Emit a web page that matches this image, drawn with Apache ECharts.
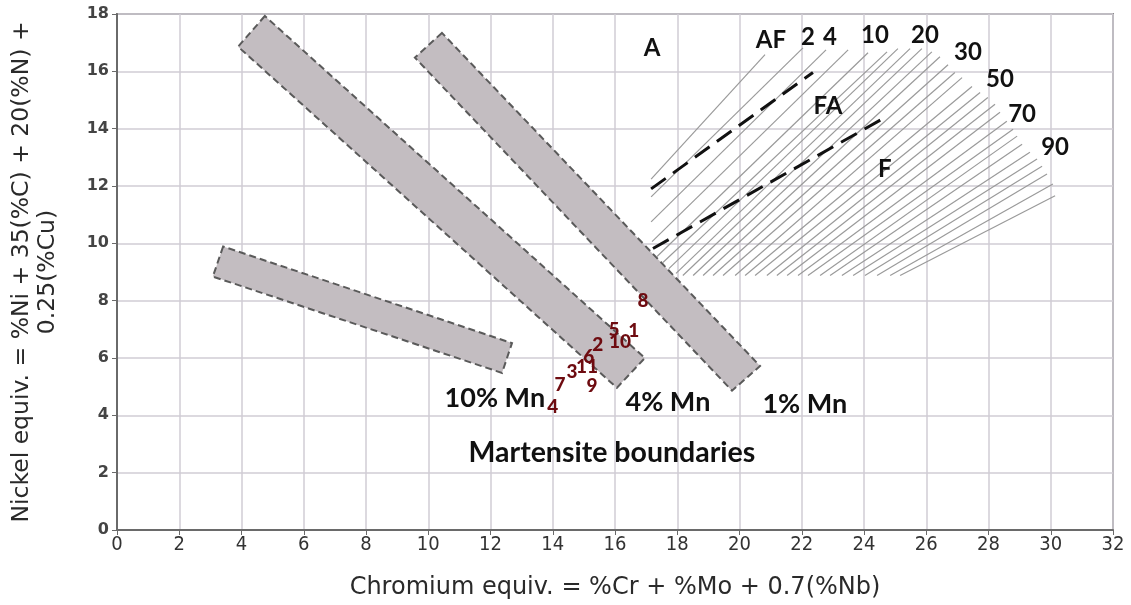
<!DOCTYPE html>
<html><head><meta charset="utf-8">
<script src="https://cdn.jsdelivr.net/npm/echarts@6/dist/echarts.min.js"></script>
<style>html,body{margin:0;padding:0;background:#fff}#c{width:1131px;height:605px}</style>
</head><body><div id="c"></div>
<script>
// ---- data ----
const band10Mn = [[3.41,9.89],[3.08,8.84],[12.37,5.48],[12.69,6.52]];
const band4Mn  = [[4.75,17.93],[3.89,16.86],[16.06,4.96],[16.96,6.00]];
const band1Mn  = [[10.44,17.34],[9.57,16.48],[19.76,4.86],[20.66,5.72]];

const sampleNames = ['1','2','3','4','5','6','7','8','9','10','11'];
const sampleX = [16.6,15.45,14.62,14.0,15.97,15.16,14.23,16.9,15.26,16.16,15.1];
const sampleY = [6.94,6.45,5.51,4.30,6.97,6.04,5.06,7.98,5.03,6.56,5.69];

const hatchStarts = [
[17.16,12.24],[17.16,11.62],[17.16,10.75],[17.19,10.06],[17.35,9.54],[17.54,9.33],[17.73,9.12],[17.96,8.95],
[18.18,8.88],[18.51,8.88],[18.83,8.88],[19.15,8.88],[19.47,8.88],[19.86,8.88],[20.18,8.88],[20.50,8.88],
[20.88,8.88],[21.20,8.88],[21.53,8.88],[21.88,8.88],[22.20,8.88],[22.59,8.88],[22.91,8.88],[23.29,8.88],
[23.65,8.88],[24.03,8.88],[24.42,8.88],[24.84,8.88],[25.16,8.88]];
const hatchEnds = [
[20.82,16.58],[22.04,16.82],[22.78,16.75],[23.49,16.75],[24.13,16.65],[24.74,16.68],[25.09,16.79],[25.48,16.79],
[25.86,16.79],[26.18,16.68],[26.44,16.51],[26.70,16.23],[26.92,15.96],[27.15,15.78],[27.47,15.47],[27.73,15.26],
[27.98,15.09],[28.21,14.85],[28.37,14.57],[28.59,14.26],[28.79,13.98],[28.92,13.74],[29.08,13.46],[29.33,13.18],
[29.56,12.94],[29.72,12.69],[29.88,12.42],[30.07,12.07],[30.14,11.66]];

const dashUpper = [[17.16,11.90],[22.36,15.96]];
const dashLower = [[17.22,9.82],[24.74,14.43]];

const regionLabels = ['A','AF','2','4','10','20','30','50','70','90','FA','F'];
const regionX = [17.19,21.01,22.20,22.91,24.35,25.96,27.34,28.37,29.08,30.14,22.84,24.67];
const regionY = [16.82,17.10,17.20,17.20,17.27,17.27,16.65,15.71,14.50,13.35,14.78,12.59];

const mnLabels = ['10% Mn','4% Mn','1% Mn','Martensite boundaries'];
const mnX = [12.14,17.70,22.10,15.90];
const mnY = [4.61,4.44,4.37,2.71];

const xTicks = {min:0,max:32,step:2};
const yTicks = {min:0,max:18,step:2};

// ---- chart ----
const chart = echarts.init(document.getElementById('c'));
function bandSeries(pts){
  return {
    type:'custom', z:2, silent:true,
    data:[[0]],
    renderItem:function(params, api){
      const points = pts.map(p=>api.coord(p));
      return {type:'polygon', shape:{points:points},
        style:{fill:'#c3bdc1', stroke:'#5a5a5a', lineWidth:2, lineDash:[7,4]}};
    }
  };
}
const hatchData = hatchStarts.map((s,i)=>[s[0],s[1],hatchEnds[i][0],hatchEnds[i][1]]);
const labelFont = 'Lato, "Open Sans", sans-serif';
const textItem = {color:'rgba(0,0,0,0)', opacity:1};

chart.setOption({
  animation:false,
  grid:{left:117,right:18,top:14,bottom:72,show:true,borderColor:'#8a8a8a',borderWidth:2,containLabel:false},
  xAxis:{type:'value',min:xTicks.min,max:xTicks.max,interval:xTicks.step,
    name:'Chromium equiv. = %Cr + %Mo + 0.7(%Nb)',nameLocation:'middle',nameGap:46,
    nameTextStyle:{fontFamily:'DejaVu Sans',fontSize:24,color:'#2a2a2a'},
    axisLine:{lineStyle:{color:'#6a6a6a',width:2}},
    axisTick:{show:true,length:5,lineStyle:{color:'#6a6a6a'}},
    axisLabel:{fontFamily:'"Liberation Sans Narrow","DejaVu Sans Condensed",sans-serif',fontSize:20,color:'#333',margin:5},
    splitLine:{lineStyle:{color:'#d0ccd4',width:1.5}}},
  yAxis:{type:'value',min:yTicks.min,max:yTicks.max,interval:yTicks.step,
    name:'Nickel equiv. = %Ni + 35(%C) + 20(%N) +\n0.25(%Cu)',nameLocation:'middle',nameGap:56,
    nameTextStyle:{fontFamily:'DejaVu Sans',fontSize:23.5,color:'#2a2a2a',lineHeight:26,align:'center'},
    axisLine:{lineStyle:{color:'#6a6a6a',width:2}},
    axisTick:{show:true,length:5,lineStyle:{color:'#6a6a6a'}},
    axisLabel:{fontFamily:'DejaVu Sans',fontWeight:'bold',fontSize:16,color:'#444',margin:8},
    splitLine:{lineStyle:{color:'#d0ccd4',width:1.5}}},
  series:[
    bandSeries(band10Mn), bandSeries(band4Mn), bandSeries(band1Mn),
    {type:'custom', z:3, silent:true, data:hatchData,
      renderItem:function(params, api){
        const a = api.coord([api.value(0),api.value(1)]);
        const b = api.coord([api.value(2),api.value(3)]);
        return {type:'line', shape:{x1:a[0],y1:a[1],x2:b[0],y2:b[1]},
          style:{stroke:'#9a9a9a',lineWidth:1.2}};
      }},
    {type:'line', z:4, data:dashUpper, symbol:'none', silent:true,
      lineStyle:{color:'#111',width:3,type:[18,9]}},
    {type:'line', z:4, data:dashLower, symbol:'none', silent:true,
      lineStyle:{color:'#111',width:3,type:[18,9]}},
    {type:'scatter', z:6, symbolSize:1, itemStyle:textItem, silent:true,
      data:sampleNames.map((n,i)=>({name:n,value:[sampleX[i],sampleY[i]]})),
      label:{show:true,position:'inside',formatter:'{b}',color:'#6e0b10',fontFamily:labelFont,fontWeight:900,fontSize:19}},
    {type:'scatter', z:6, symbolSize:1, itemStyle:textItem, silent:true,
      data:regionLabels.map((n,i)=>({name:n,value:[regionX[i],regionY[i]]})),
      label:{show:true,position:'inside',formatter:'{b}',color:'#111',fontFamily:labelFont,fontWeight:'bold',fontSize:24}},
    {type:'scatter', z:6, symbolSize:1, itemStyle:textItem, silent:true,
      data:mnLabels.map((n,i)=>({name:n,value:[mnX[i],mnY[i]],
        label:i===3?{fontSize:28.5}:undefined})),
      label:{show:true,position:'inside',formatter:'{b}',color:'#111',fontFamily:labelFont,fontWeight:'bold',fontSize:27}}
  ]
});
</script></body></html>
